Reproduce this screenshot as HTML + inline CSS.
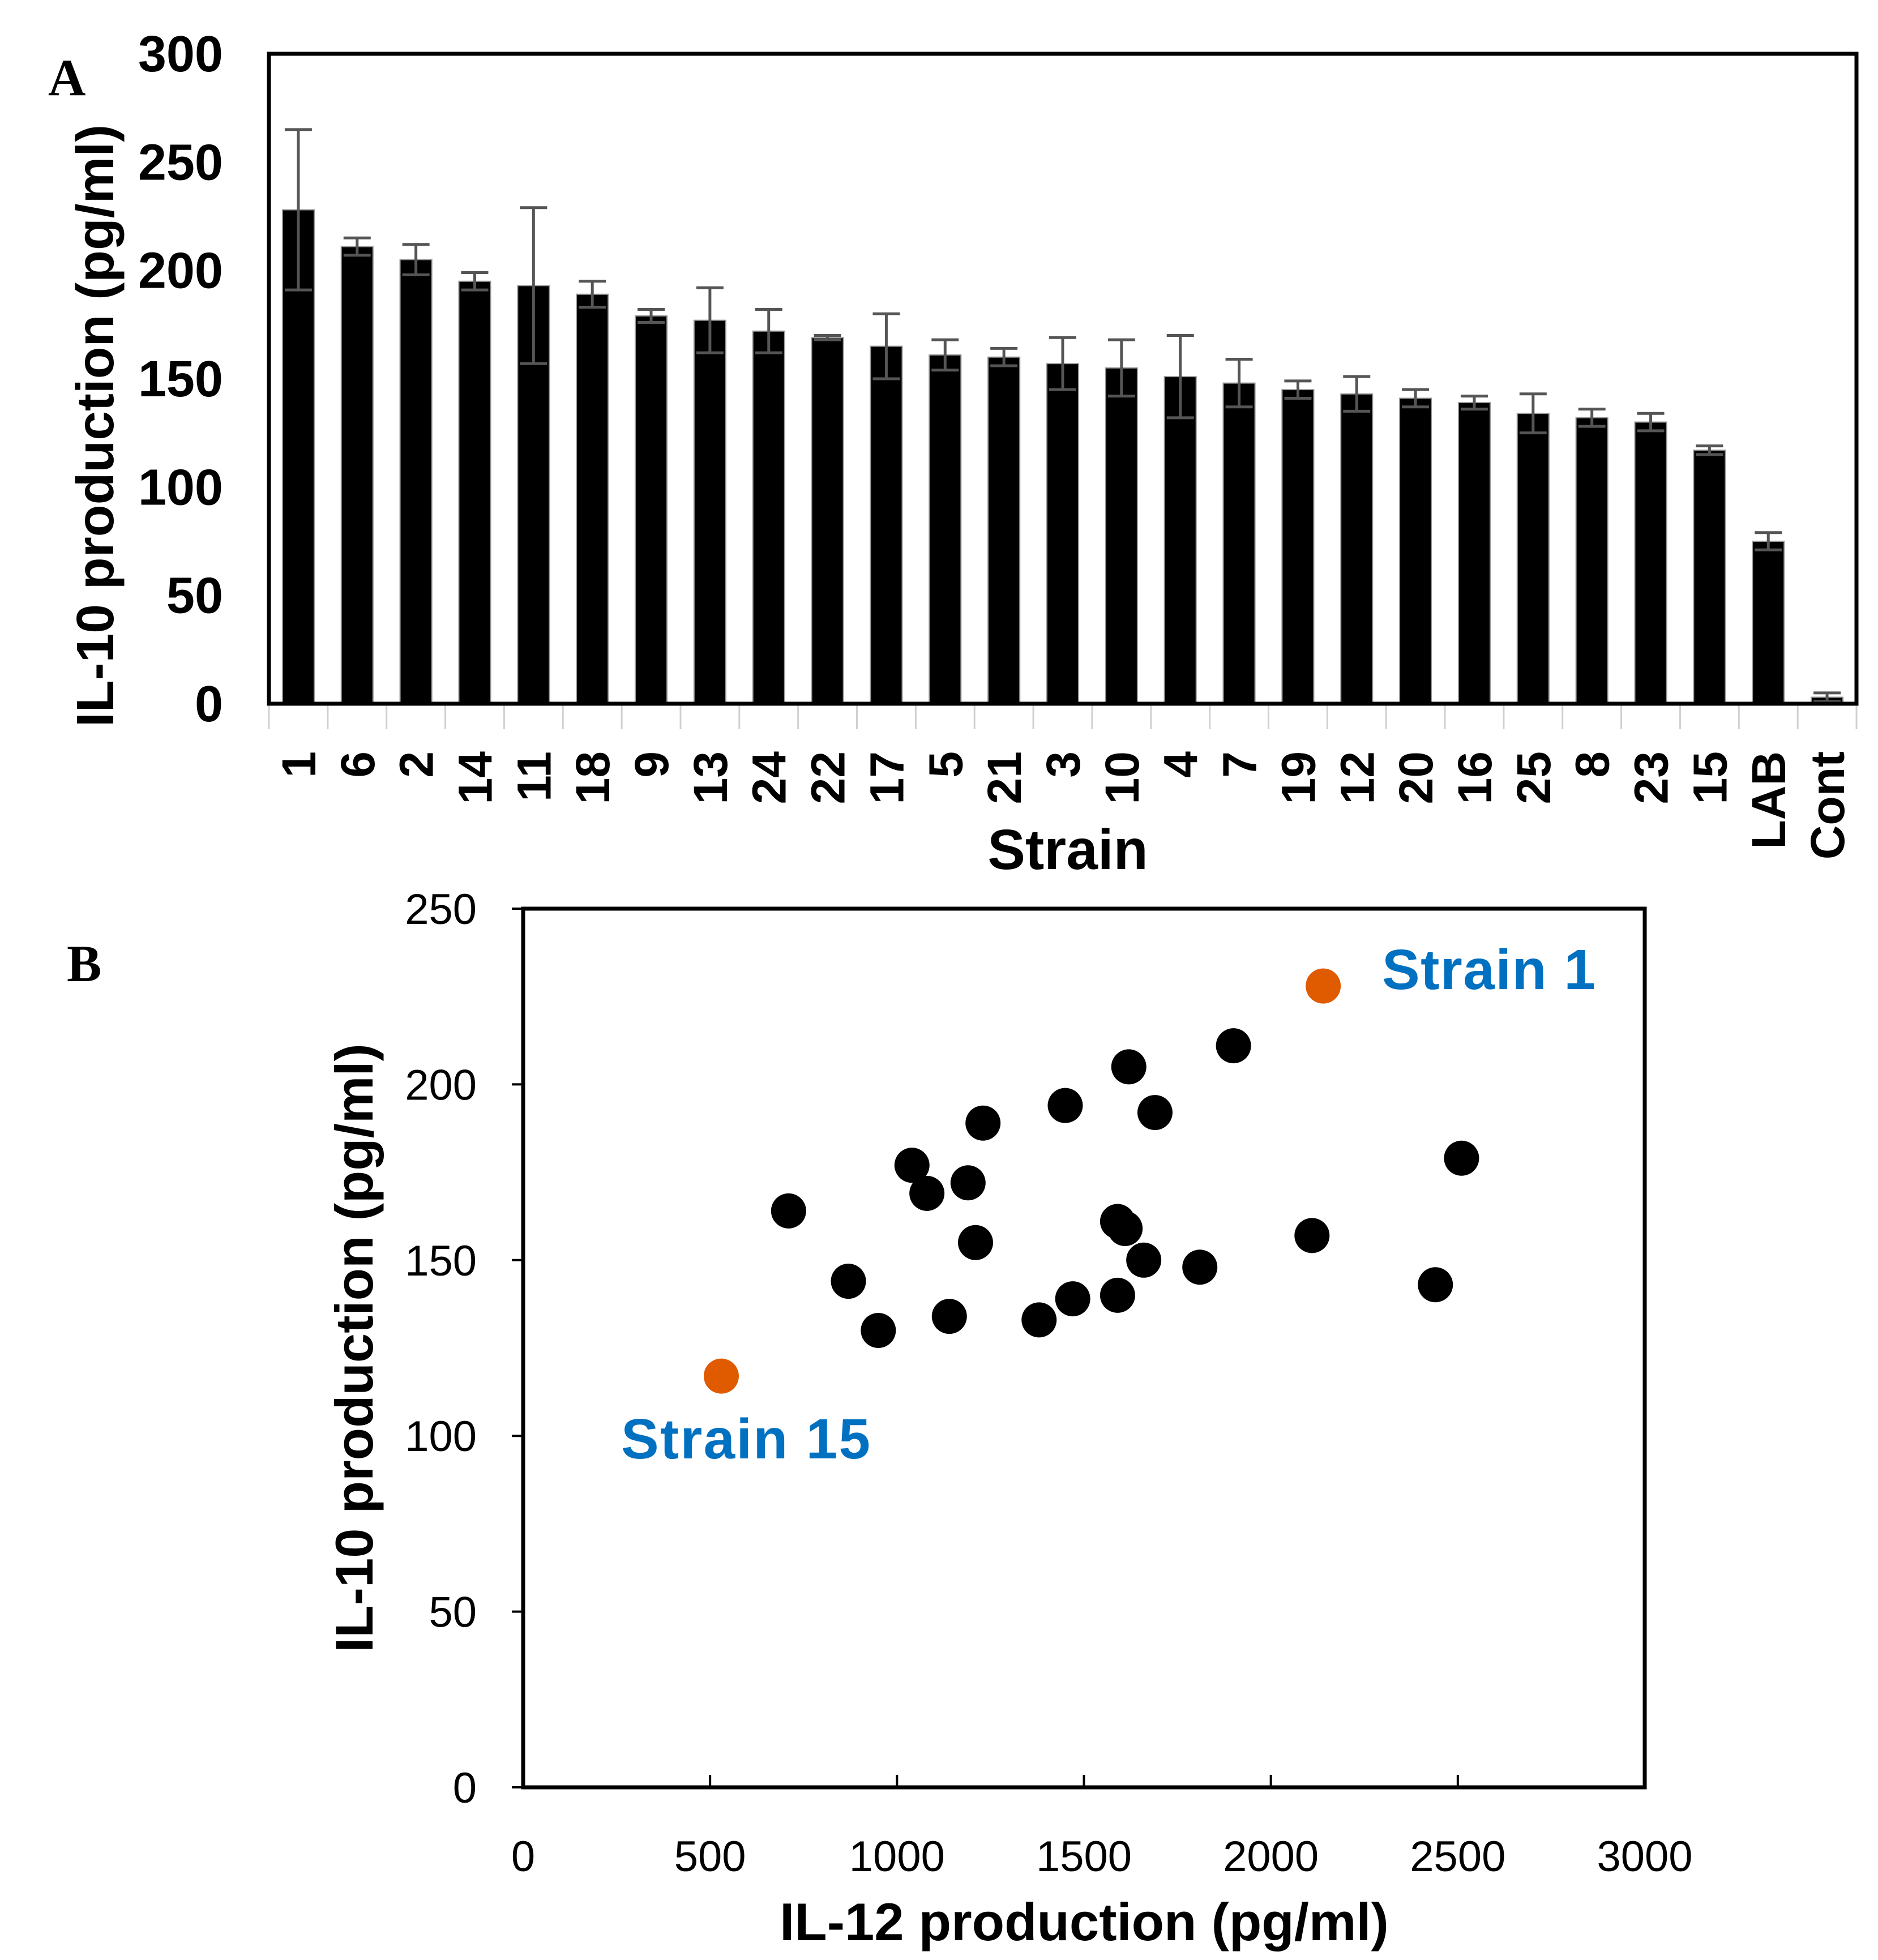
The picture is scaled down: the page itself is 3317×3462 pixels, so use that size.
<!DOCTYPE html>
<html><head><meta charset="utf-8"><style>
html,body{margin:0;padding:0;background:#fff;}
svg{display:block;font-family:"Liberation Sans",Arial,sans-serif;}
</style></head><body>
<svg id="fig" width="3317" height="3462" viewBox="0 0 3317 3462" xmlns="http://www.w3.org/2000/svg">
<rect width="3317" height="3462" fill="#fff"/>
<g id="chartA"></g>
<g id="chartB"></g>
</svg>
<script>
// ---- Chart A data ----
const categoriesA = ["1","6","2","14","11","18","9","13","24","22","17","5","21","3","10","4","7","19","12","20","16","25","8","23","15","LAB","Cont"];
const valuesA = [228,211,205,195,193,189,179,177,172,169,165,161,160,157,155,151,148,145,143,141,139,134,132,130,117,75,3];
const errorsA = [37,4,7,4,36,6,3,15,10,1,15,7,4,12,13,19,11,4,8,4,3,9,4,4,2,4,2];
const yTicksA = [0,50,100,150,200,250,300];
// ---- Chart B data ----
const il12B = [2140,1900,1620,1450,1690,1230,2510,1040,1190,1080,710,1590,1610,2110,1210,1660,1810,870,2440,1590,1470,1140,1380,950,530];
const il10B = [228,211,205,194,192,189,179,177,172,169,164,161,159,157,155,150,148,144,143,140,139,134,133,130,117];
const highlightB = [1,0,0,0,0,0,0,0,0,0,0,0,0,0,0,0,0,0,0,0,0,0,0,0,1];
const xTicksB = [0,500,1000,1500,2000,2500,3000];
const yTicksB = [0,50,100,150,200,250];

const NS="http://www.w3.org/2000/svg";
function mk(parent,tag,attrs,text){const e=document.createElementNS(NS,tag);for(const k in attrs)e.setAttribute(k,attrs[k]);if(text!==undefined)e.textContent=text;parent.appendChild(e);return e;}

// ---- Chart A ----
(function(){
const g=document.getElementById('chartA');
const L=475,T=95,R=3279,B=1243;
const yA=v=>B-(v/300)*(B-T);
const band=(R-L)/categoriesA.length;
const xA=i=>L+band*(i+0.5);
for(let i=0;i<=categoriesA.length;i++){
  const t=mk(g,'line',{x1:L+band*i,x2:L+band*i,y1:B,y2:B+45,stroke:'#d0d0d0','stroke-width':3});
  
  
}
categoriesA.forEach((c,i)=>{
  const v=valuesA[i],e=errorsA[i];
  const bw=band*0.54;
  const r=mk(g,'rect',{x:xA(i)-bw/2,y:yA(v),width:bw,height:B-yA(v),fill:'#000',stroke:'#999','stroke-width':2});
  
  
  const eg=mk(g,'g',{stroke:'#555','stroke-width':5});
  
  
  mk(eg,'line',{x1:xA(i),x2:xA(i),y1:yA(v+e),y2:yA(v-e)});
  mk(eg,'line',{x1:xA(i)-24,x2:xA(i)+24,y1:yA(v+e),y2:yA(v+e)});
  mk(eg,'line',{x1:xA(i)-24,x2:xA(i)+24,y1:yA(v-e),y2:yA(v-e)});
  const tx=xA(i)+30, ty=1327;
  const lb=mk(g,'text',{x:tx,y:ty,transform:`rotate(-90 ${tx} ${ty})`,'text-anchor':'end','font-size':84,'font-weight':'bold'},c);
  
  
});
yTicksA.forEach(v=>{
  const t=mk(g,'text',{x:394,y:yA(v)+31,'text-anchor':'end','font-size':90,'font-weight':'bold'},String(v));
  
  
});
const fr=mk(g,'rect',{x:L,y:T,width:R-L,height:B-T,fill:'none',stroke:'#000','stroke-width':7});


const yt=mk(g,'text',{x:200,y:752,transform:'rotate(-90 200 752)','text-anchor':'middle','font-size':93,'font-weight':'bold'},'IL-10 production (pg/ml)');


const xt=mk(g,'text',{x:1886,y:1535,'text-anchor':'middle','font-size':100,'font-weight':'bold'},'Strain');


const pl=mk(g,'text',{x:85,y:168,'font-size':92,'font-weight':'bold','font-family':'Liberation Serif, serif'},'A');


})();

// ---- Chart B ----
(function(){
const g=document.getElementById('chartB');
const L=924,T=1605,R=2905,B=3157;
const xB=v=>L+(v/3000)*(R-L);
const yB=v=>B-(v/250)*(B-T);
xTicksB.forEach(v=>{
  const t=mk(g,'line',{x1:xB(v),x2:xB(v),y1:B,y2:B-22,stroke:'#000','stroke-width':4});
  
  
  const l=mk(g,'text',{x:xB(v),y:3305,'text-anchor':'middle','font-size':76},String(v));
  
  
});
yTicksB.forEach(v=>{
  const t=mk(g,'line',{x1:L,x2:L-20,y1:yB(v),y2:yB(v),stroke:'#000','stroke-width':4});
  
  
  const l=mk(g,'text',{x:842,y:yB(v)+27,'text-anchor':'end','font-size':76},String(v));
  
  
});
const fr=mk(g,'rect',{x:L,y:T,width:R-L,height:B-T,fill:'none',stroke:'#000','stroke-width':7});


il12B.forEach((x,i)=>{
  const c=mk(g,'ellipse',{cx:xB(x),cy:yB(il10B[i]),rx:31,ry:31,fill:highlightB[i]?'#E05A00':'#000'});
  
  
});
const a1=mk(g,'text',{x:2441,y:1747,'font-size':100,'font-weight':'bold',fill:'#0070C0',textLength:377},'Strain 1');


const a2=mk(g,'text',{x:1097,y:2576,'font-size':100,'font-weight':'bold',fill:'#0070C0',textLength:440},'Strain 15');


const xt=mk(g,'text',{x:1915,y:3427,'text-anchor':'middle','font-size':94,'font-weight':'bold'},'IL-12 production (pg/ml)');


const yt=mk(g,'text',{x:658,y:2381,transform:'rotate(-90 658 2381)','text-anchor':'middle','font-size':94,'font-weight':'bold'},'IL-10 production (pg/ml)');


const pl=mk(g,'text',{x:118,y:1733,'font-size':92,'font-weight':'bold','font-family':'Liberation Serif, serif'},'B');


})();
</script>
</body></html>
